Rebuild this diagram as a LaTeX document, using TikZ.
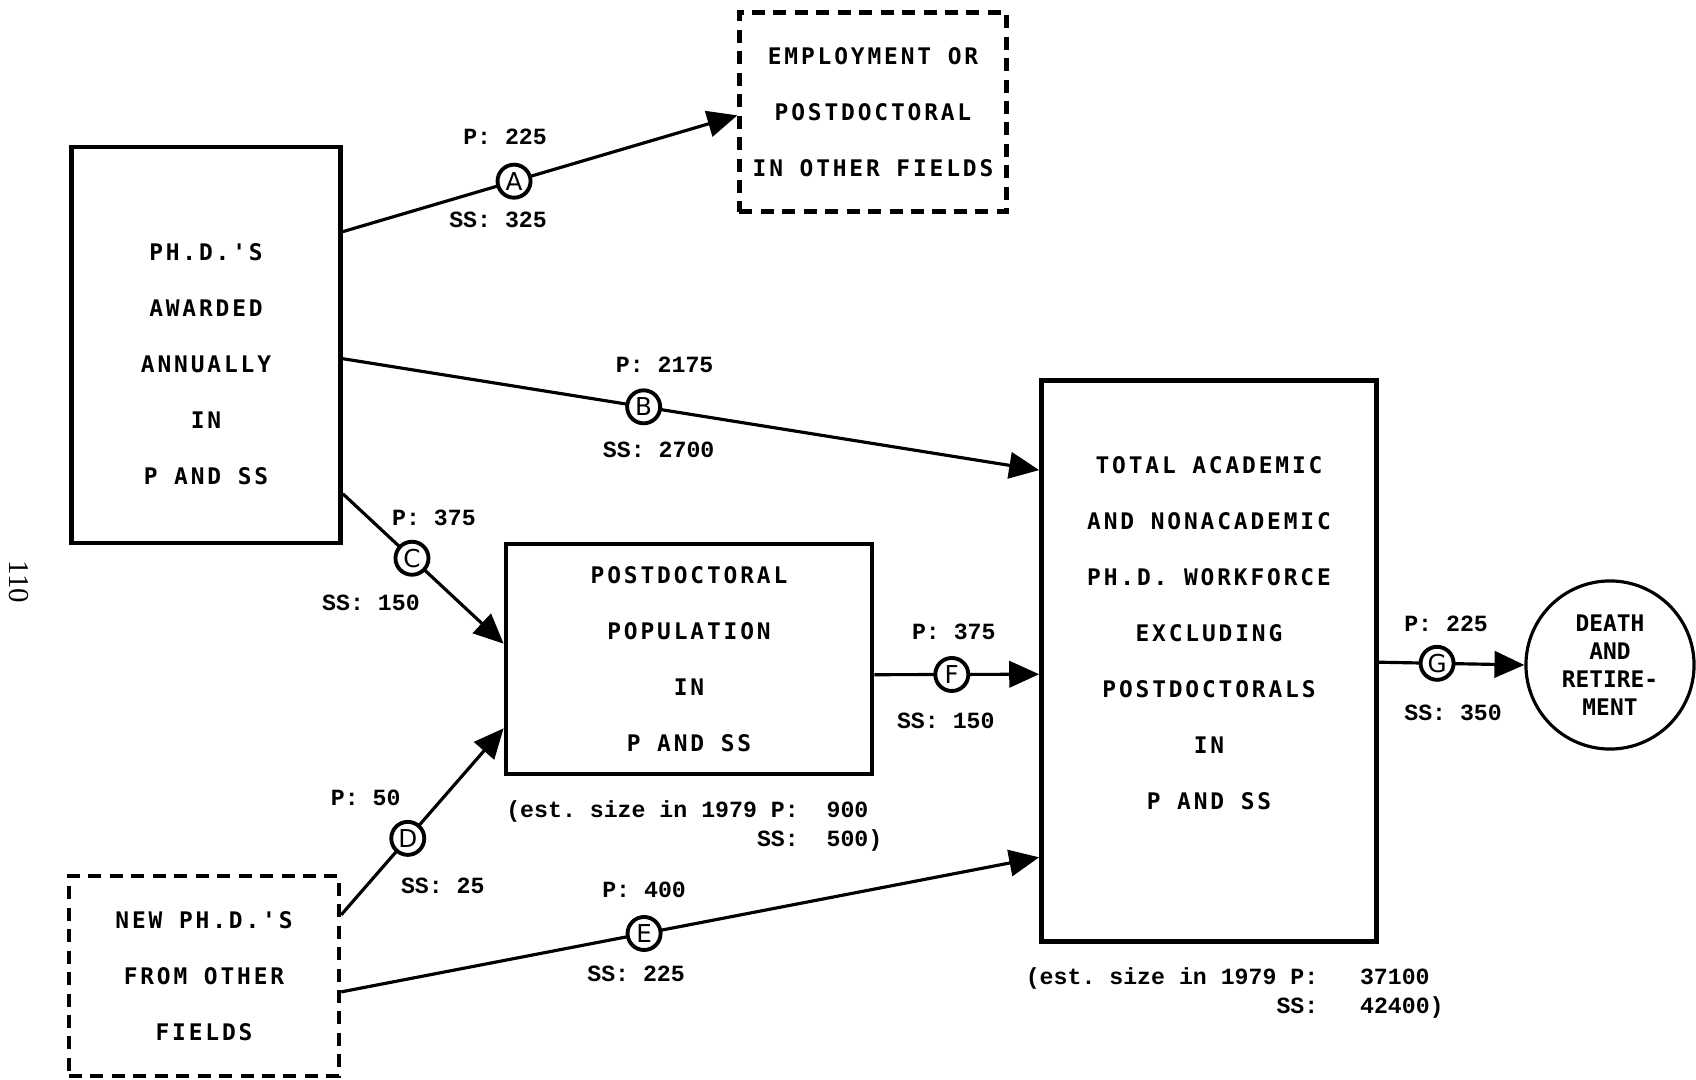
\documentclass[tikz,border=0pt]{standalone}
\usepackage{fontspec}
\usetikzlibrary{arrows.meta, positioning}

\newfontfamily\boxfont[LetterSpace=12.5, Ligatures=TeXOff]{DejaVu Sans Mono}
\newfontfamily\sinkfont[Ligatures=TeXOff]{DejaVu Sans Mono}
\newfontfamily\numfont{Liberation Mono}
\newfontfamily\tagfont{DejaVu Sans}
\newfontfamily\pagefont{Liberation Serif}

\begin{document}
\begin{tikzpicture}[
    x=0.01cm, y=-0.01cm,
    stock/.style={
        rectangle, draw=black, line width=1.3pt, inner sep=0pt,
        font=\boxfont\bfseries\frenchspacing\fontsize{6.5}{15.9}\selectfont, align=center
    },
    outside/.style={stock, line width=1.2pt, dash pattern=on 3.7pt off 2.4pt},
    sink/.style={
        circle, draw=black, line width=0.9pt, minimum size=1.68cm, inner sep=0pt,
        font=\sinkfont\bfseries\fontsize{6.5}{8}\selectfont, align=center
    },
    flow/.style={-{Triangle[length=8.5pt,width=7.5pt]}, line width=0.9pt},
    tag/.style={
        circle, draw=black, line width=1.1pt, fill=white, minimum size=0.33cm,
        inner sep=0pt, font=\tagfont\fontsize{7}{8}\selectfont
    },
    rate/.style={font=\numfont\bfseries\frenchspacing\fontsize{6.6}{8.2}\selectfont, inner sep=0pt, align=left}
]
\useasboundingbox (0,0) rectangle (1696,1080);

% Stocks
\node[stock, minimum width=2.69cm, minimum height=3.96cm] (awarded) at (206,345)
    {\mbox{}\\PH.D.'S\\AWARDED\\ANNUALLY\\IN\\P AND SS};
\node[outside, minimum width=2.67cm, minimum height=1.99cm] (employ) at (873,112)
    {EMPLOYMENT OR\\POSTDOCTORAL\\IN OTHER FIELDS};
\node[stock, minimum width=3.66cm, minimum height=2.30cm] (postdoc) at (689,659)
    {POSTDOCTORAL\\POPULATION\\IN\\P AND SS};
\node[stock, minimum width=3.35cm, minimum height=5.61cm] (total) at (1209,661)
    {TOTAL ACADEMIC\\AND NONACADEMIC\\PH.D. WORKFORCE\\EXCLUDING\\POSTDOCTORALS\\IN\\P AND SS\\\mbox{}};
\node[sink] (death) at (1610,665) {DEATH\\AND\\RETIRE-\\MENT};
\node[outside, minimum width=2.70cm, minimum height=2.00cm] (newphd) at (204,976)
    {NEW PH.D.'S\\FROM OTHER\\FIELDS};

% Flows
\draw[flow] ([yshift=-0.87cm]awarded.north east) -- node[tag, pos=.434] (A) {A} ([yshift=-1.05cm]employ.north west);
\draw[flow] ([yshift=-2.14cm]awarded.north east) -- node[tag, pos=.432] (B) {B} ([yshift=-0.92cm]total.north west);
\draw[flow] ([yshift=-3.49cm]awarded.north east) -- node[tag, pos=.43] (C) {C} ([yshift=-1.02cm]postdoc.north west);
\draw[flow] ([yshift=-0.41cm]newphd.north east) -- node[tag, pos=.41] (D) {D} ([yshift=0.48cm]postdoc.south west);
\draw[flow] ([yshift=-1.18cm]newphd.north east) -- node[tag, pos=.434] (E) {E} ([yshift=-4.79cm]total.north west);
\draw[flow] ([yshift=-1.33cm]postdoc.north east) -- node[tag, pos=.47] (F) {F} ([yshift=-2.96cm]total.north west);
\draw[flow] ([yshift=-2.84cm]total.north east) -- node[tag, pos=.40] (G) {G} (death.west);

% Rates per flow
\node[rate, above=0.17cm of A, xshift=-0.09cm] (Ap) {P: 225};
\node[rate, below=0.12cm of A, xshift=-0.16cm] (As) {SS: 325};
\node[rate, above=0.15cm of B, xshift=0.21cm] (Bp) {P: 2175};
\node[rate, below=0.16cm of B, xshift=0.15cm] (Bs) {SS: 2700};
\node[rate, above=0.13cm of C, xshift=0.22cm] (Cp) {P: 375};
\node[rate, below=0.18cm of C, xshift=-0.41cm] (Cs) {SS: 150};
\node[rate, above=0.13cm of D, xshift=-0.42cm] (Dp) {P: 50};
\node[rate, below=0.20cm of D, xshift=0.35cm] (Ds) {SS: 25};
\node[rate, above=0.17cm of E] (Ep) {P: 400};
\node[rate, below=0.13cm of E, xshift=-0.08cm] (Es) {SS: 225};
\node[rate, above=0.16cm of F, xshift=0.02cm] (Fp) {P: 375};
\node[rate, below=0.19cm of F, xshift=-0.06cm] (Fs) {SS: 150};
\node[rate, above=0.12cm of G, xshift=0.09cm] (Gp) {P: 225};
\node[rate, below=0.22cm of G, xshift=0.16cm] (Gs) {SS: 350};

% Estimated sizes
\node[rate, below right=0.24cm and 0.02cm of postdoc.south west] (postsize)
    {(est. size in 1979 P:~~900\\\hphantom{(est. size in 1979}SS:~~500)};
\node[rate, below right=0.23cm and -0.14cm of total.south west] (totalsize)
    {(est. size in 1979 P:~~~37100\\\hphantom{(est. size in 1979}SS:~~~42400)};

% Page number
\node[font=\pagefont\fontsize{8.2}{9}\selectfont, rotate=-90] (page) at (19,582) {110};

\end{tikzpicture}
\end{document}
